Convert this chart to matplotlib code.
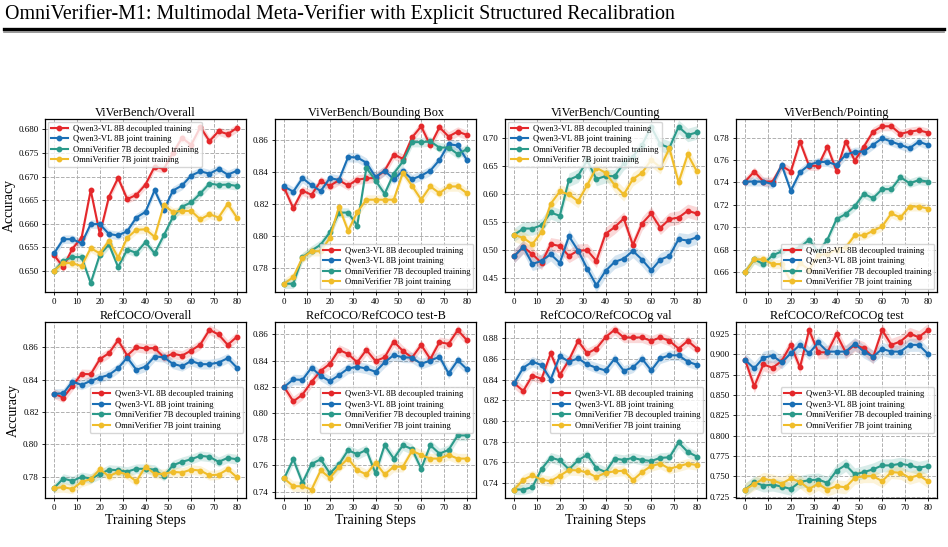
import numpy as np
import matplotlib
matplotlib.use('Agg')
import matplotlib.pyplot as plt

plt.rcParams['font.family'] = ['Liberation Serif', 'DejaVu Serif']

steps = list(range(0, 81, 4))
series_names = ['Qwen3-VL 8B decoupled training', 'Qwen3-VL 8B joint training',
                'OmniVerifier 7B decoupled training', 'OmniVerifier 7B joint training']
colors = ['#e4282b', '#1a6fb5', '#2b9a8a', '#f0bd2a']

titles = ['ViVerBench/Overall', 'ViVerBench/Bounding Box', 'ViVerBench/Counting', 'ViVerBench/Pointing',
          'RefCOCO/Overall', 'RefCOCO/RefCOCO test-B', 'RefCOCO/RefCOCOg val', 'RefCOCO/RefCOCOg test']

# ViVerBench/Overall
ov_red = [0.6533, 0.6508, 0.6547, 0.6570, 0.6671, 0.6578, 0.6657, 0.6697, 0.6652, 0.6661, 0.6683,
          0.6721, 0.6716, 0.6750, 0.6782, 0.6767, 0.6805, 0.6775, 0.6796, 0.6790, 0.6803]
ov_blue = [0.6537, 0.6567, 0.6567, 0.6558, 0.6599, 0.6599, 0.6578, 0.6575, 0.6584, 0.6613, 0.6625,
           0.6671, 0.6629, 0.6670, 0.6681, 0.6702, 0.6711, 0.6706, 0.6716, 0.6704, 0.6712]
ov_teal = [0.6500, 0.6521, 0.6529, 0.6529, 0.6474, 0.6534, 0.6556, 0.6508, 0.6545, 0.6538, 0.6561,
           0.6537, 0.6575, 0.6614, 0.6636, 0.6645, 0.6664, 0.6685, 0.6682, 0.6683, 0.6680]
ov_yellow = [0.6500, 0.6517, 0.6516, 0.6510, 0.6548, 0.6537, 0.6564, 0.6528, 0.6570, 0.6587, 0.6588,
             0.6572, 0.6639, 0.6625, 0.6627, 0.6627, 0.6609, 0.6620, 0.6613, 0.6642, 0.6613]

# ViVerBench/Bounding Box
bb_red = [0.8302, 0.8173, 0.8283, 0.8258, 0.8343, 0.8314, 0.8349, 0.8316, 0.8353, 0.8360, 0.8364,
          0.8409, 0.8509, 0.8484, 0.8617, 0.8687, 0.8567, 0.8681, 0.8623, 0.8654, 0.8633]
bb_blue = [0.8310, 0.8277, 0.8362, 0.8318, 0.8281, 0.8362, 0.8351, 0.8494, 0.8492, 0.8459, 0.8370,
           0.8409, 0.8355, 0.8407, 0.8355, 0.8378, 0.8409, 0.8476, 0.8575, 0.8567, 0.8476]
bb_teal = [0.7700, 0.7700, 0.7866, 0.7908, 0.7945, 0.8022, 0.8146, 0.8146, 0.8065, 0.8428, 0.8347,
           0.8264, 0.8391, 0.8467, 0.8588, 0.8588, 0.8592, 0.8554, 0.8554, 0.8513, 0.8544]
bb_yellow = [0.7700, 0.7742, 0.7862, 0.7904, 0.7904, 0.7986, 0.8183, 0.8032, 0.8148, 0.8227, 0.8227,
             0.8227, 0.8227, 0.8397, 0.8314, 0.8227, 0.8310, 0.8268, 0.8310, 0.8310, 0.8268]

# ViVerBench/Counting
ct_red = [0.4893, 0.5060, 0.4929, 0.4774, 0.5107, 0.5077, 0.4899, 0.4994, 0.5000, 0.4810, 0.5292,
          0.5411, 0.5566, 0.5095, 0.5476, 0.5655, 0.5399, 0.5554, 0.5583, 0.5702, 0.5655]
ct_blue = [0.4893, 0.5060, 0.4756, 0.4810, 0.4929, 0.4774, 0.5250, 0.4994, 0.4673, 0.4375, 0.4631,
           0.4792, 0.4851, 0.4988, 0.4833, 0.4643, 0.4833, 0.4899, 0.5196, 0.5173, 0.5232]
ct_teal = [0.5274, 0.5387, 0.5387, 0.5446, 0.5673, 0.5613, 0.6256, 0.6327, 0.6600, 0.6268, 0.6321,
           0.6321, 0.6550, 0.6670, 0.6875, 0.7200, 0.6887, 0.6827, 0.7200, 0.7054, 0.7100]
ct_yellow = [0.5274, 0.5220, 0.5107, 0.5327, 0.5827, 0.6048, 0.5994, 0.5875, 0.6161, 0.6470, 0.6381,
             0.6161, 0.5994, 0.6268, 0.6381, 0.6607, 0.6480, 0.6815, 0.6210, 0.6708, 0.6405]

# ViVerBench/Pointing
pt_red = [0.7408, 0.7497, 0.7408, 0.7408, 0.7548, 0.7497, 0.7764, 0.7548, 0.7548, 0.7720, 0.7503,
          0.7764, 0.7595, 0.7720, 0.7853, 0.7901, 0.7901, 0.7833, 0.7853, 0.7865, 0.7845]
pt_blue = [0.7408, 0.7408, 0.7408, 0.7384, 0.7556, 0.7325, 0.7491, 0.7556, 0.7583, 0.7583, 0.7556,
           0.7646, 0.7675, 0.7675, 0.7735, 0.7794, 0.7764, 0.7735, 0.7705, 0.7764, 0.7735]
pt_teal = [0.6600, 0.6713, 0.6671, 0.6749, 0.6784, 0.6800, 0.6820, 0.6888, 0.6780, 0.6888, 0.7072,
           0.7117, 0.7188, 0.7298, 0.7259, 0.7340, 0.7340, 0.7447, 0.7393, 0.7420, 0.7408]
pt_yellow = [0.6600, 0.6713, 0.6713, 0.6671, 0.6671, 0.6517, 0.6680, 0.6620, 0.6750, 0.6760, 0.6800,
             0.6820, 0.6927, 0.6927, 0.6968, 0.7007, 0.7123, 0.7087, 0.7185, 0.7185, 0.7167]

# RefCOCO/Overall
ro_red = [0.8313, 0.8289, 0.8361, 0.8435, 0.8433, 0.8526, 0.8563, 0.8643, 0.8548, 0.8600, 0.8592,
          0.8594, 0.8538, 0.8559, 0.8548, 0.8579, 0.8616, 0.8707, 0.8678, 0.8614, 0.8664]
ro_blue = [0.8313, 0.8315, 0.8388, 0.8367, 0.8392, 0.8412, 0.8429, 0.8470, 0.8536, 0.8460, 0.8480,
           0.8542, 0.8538, 0.8497, 0.8482, 0.8515, 0.8495, 0.8495, 0.8505, 0.8532, 0.8474]
ro_teal = [0.7732, 0.7790, 0.7775, 0.7800, 0.7790, 0.7816, 0.7845, 0.7841, 0.7833, 0.7850, 0.7850,
           0.7845, 0.7804, 0.7872, 0.7893, 0.7909, 0.7930, 0.7924, 0.7893, 0.7917, 0.7909]
ro_yellow = [0.7732, 0.7736, 0.7726, 0.7769, 0.7786, 0.7847, 0.7804, 0.7831, 0.7814, 0.7773, 0.7864,
             0.7819, 0.7819, 0.7831, 0.7827, 0.7845, 0.7839, 0.7810, 0.7814, 0.7847, 0.7798]

# RefCOCO/RefCOCO test-B
tb_red = [0.8199, 0.8089, 0.8140, 0.8238, 0.8322, 0.8376, 0.8482, 0.8451, 0.8387, 0.8482, 0.8397,
          0.8425, 0.8546, 0.8474, 0.8423, 0.8520, 0.8412, 0.8541, 0.8528, 0.8633, 0.8556]
tb_blue = [0.8199, 0.8256, 0.8253, 0.8346, 0.8284, 0.8243, 0.8289, 0.8340, 0.8353, 0.8340, 0.8315,
           0.8387, 0.8443, 0.8425, 0.8423, 0.8376, 0.8400, 0.8430, 0.8302, 0.8402, 0.8335]
tb_teal = [0.7500, 0.7647, 0.7467, 0.7611, 0.7647, 0.7539, 0.7608, 0.7716, 0.7685, 0.7718, 0.7539,
           0.7754, 0.7652, 0.7754, 0.7724, 0.7575, 0.7754, 0.7690, 0.7718, 0.7829, 0.7829]
tb_yellow = [0.7500, 0.7441, 0.7441, 0.7415, 0.7562, 0.7505, 0.7587, 0.7652, 0.7564, 0.7531, 0.7621,
             0.7531, 0.7590, 0.7590, 0.7711, 0.7680, 0.7652, 0.7652, 0.7680, 0.7652, 0.7652]

# RefCOCO/RefCOCOg val
gv_red = [0.8366, 0.8291, 0.8441, 0.8408, 0.8656, 0.8444, 0.8591, 0.8777, 0.8656, 0.8702, 0.8813,
          0.8885, 0.8810, 0.8810, 0.8810, 0.8777, 0.8810, 0.8777, 0.8702, 0.8777, 0.8702]
gv_blue = [0.8366, 0.8516, 0.8575, 0.8542, 0.8402, 0.8630, 0.8575, 0.8607, 0.8549, 0.8516, 0.8490,
           0.8604, 0.8487, 0.8519, 0.8604, 0.8490, 0.8607, 0.8637, 0.8637, 0.8575, 0.8545]
gv_teal = [0.7335, 0.7335, 0.7358, 0.7534, 0.7645, 0.7619, 0.7531, 0.7619, 0.7671, 0.7544, 0.7505,
           0.7635, 0.7622, 0.7642, 0.7622, 0.7612, 0.7642, 0.7648, 0.7792, 0.7700, 0.7655]
gv_yellow = [0.7335, 0.7430, 0.7472, 0.7430, 0.7416, 0.7469, 0.7524, 0.7521, 0.7501, 0.7456, 0.7498,
             0.7511, 0.7518, 0.7426, 0.7505, 0.7563, 0.7586, 0.7537, 0.7560, 0.7586, 0.7573]

# RefCOCO/RefCOCOg test
gt_red = [0.8931, 0.8608, 0.8877, 0.8836, 0.8919, 0.9118, 0.8840, 0.9300, 0.9026, 0.9026, 0.9250,
          0.9026, 0.9118, 0.9076, 0.8964, 0.9300, 0.9118, 0.9159, 0.9254, 0.9213, 0.9300]
gt_blue = [0.8931, 0.8828, 0.8960, 0.8985, 0.8902, 0.9014, 0.9118, 0.9014, 0.9147, 0.9035, 0.9035,
           0.9035, 0.9130, 0.9035, 0.8973, 0.9068, 0.9035, 0.9035, 0.9118, 0.9118, 0.9006]
gt_teal = [0.7337, 0.7428, 0.7387, 0.7399, 0.7374, 0.7346, 0.7432, 0.7453, 0.7461, 0.7420, 0.7569,
           0.7640, 0.7524, 0.7553, 0.7586, 0.7635, 0.7635, 0.7656, 0.7635, 0.7606, 0.7627]
gt_yellow = [0.7337, 0.7408, 0.7470, 0.7449, 0.7412, 0.7474, 0.7432, 0.7346, 0.7408, 0.7337, 0.7379,
             0.7366, 0.7482, 0.7503, 0.7503, 0.7441, 0.7553, 0.7544, 0.7482, 0.7515, 0.7441]

panel_data = [
    [ov_red, ov_blue, ov_teal, ov_yellow],
    [bb_red, bb_blue, bb_teal, bb_yellow],
    [ct_red, ct_blue, ct_teal, ct_yellow],
    [pt_red, pt_blue, pt_teal, pt_yellow],
    [ro_red, ro_blue, ro_teal, ro_yellow],
    [tb_red, tb_blue, tb_teal, tb_yellow],
    [gv_red, gv_blue, gv_teal, gv_yellow],
    [gt_red, gt_blue, gt_teal, gt_yellow],
]

# shaded band half-width per panel
bands = [0.0009, 0.003, 0.012, 0.004, 0.003, 0.004, 0.005, 0.008]
ylims = [(0.6455, 0.6822), (0.7648, 0.8733), (0.4256, 0.7339), (0.6422, 0.7966),
         (0.767, 0.8755), (0.7351, 0.8695), (0.7253, 0.896), (0.7234, 0.9399)]
yticks = [np.arange(0.650, 0.6801, 0.005), np.arange(0.78, 0.861, 0.02), np.arange(0.45, 0.701, 0.05),
          np.arange(0.66, 0.781, 0.02), np.arange(0.78, 0.861, 0.02), np.arange(0.74, 0.861, 0.02),
          np.arange(0.74, 0.881, 0.02), np.arange(0.725, 0.9251, 0.025)]
yfmt = ['%.3f', '%.2f', '%.2f', '%.2f', '%.2f', '%.2f', '%.2f', '%.3f']
legend_loc = ['upper left', 'lower right', 'upper left', 'lower right',
              'center right', 'center right', 'center right', 'center right']

W, H = 948, 547
fig = plt.figure(figsize=(W / 100, H / 100), dpi=100)

# page header
fig.text(5 / W, 1 - 19 / H, 'OmniVerifier-M1: Multimodal Meta-Verifier with Explicit Structured Recalibration',
         fontsize=14.4, ha='left', va='baseline')
fig.add_artist(plt.Line2D([4 / W, 944 / W], [1 - 28.5 / H, 1 - 28.5 / H], color='black', lw=2.4))
fig.add_artist(plt.Line2D([4 / W, 944 / W], [1 - 32 / H, 1 - 32 / H], color='#888888', lw=1.2))

lefts = [45, 275, 505, 736]
rows = [(119, 292), (322, 498)]

for i in range(8):
    r, c = divmod(i, 4)
    top, bot = rows[r]
    ax = fig.add_axes([lefts[c] / W, 1 - bot / H, 201 / W, (bot - top) / H])
    for vals, name, col in zip(panel_data[i], series_names, colors):
        v = np.array(vals)
        ax.fill_between(steps, v - bands[i], v + bands[i], color=col, alpha=0.18, lw=0)
        ax.plot(steps, v, color=col, lw=1.5, marker='o', markersize=3.2, label=name)
    ax.set_xlim(-4, 84)
    ax.set_ylim(*ylims[i])
    ax.set_xticks(range(0, 81, 10))
    ax.set_yticks(yticks[i])
    ax.yaxis.set_major_formatter(matplotlib.ticker.FormatStrFormatter(yfmt[i]))
    ax.tick_params(labelsize=6.5, length=2.5, width=0.6, pad=2)
    ax.grid(True, ls='--', color='#b0b0b0', lw=0.7)
    ax.set_axisbelow(True)
    for s in ax.spines.values():
        s.set_linewidth(0.9)
    ax.set_title(titles[i], fontsize=8.8, pad=2)
    if c == 0:
        ax.set_ylabel('Accuracy', fontsize=10, labelpad=2)
    if r == 1:
        ax.set_xlabel('Training Steps', fontsize=10, labelpad=1)
    ax.legend(loc=legend_loc[i], fontsize=6.2, handlelength=2.0, borderpad=0.35,
              labelspacing=0.3, handletextpad=0.6, borderaxespad=0.3)

fig.savefig('out.png', dpi=100)
